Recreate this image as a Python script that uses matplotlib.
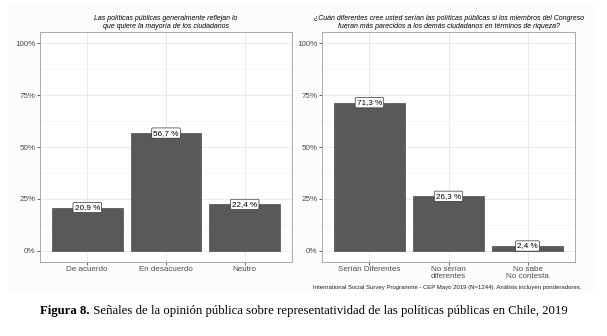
import matplotlib.pyplot as plt
from matplotlib.patches import Rectangle

# datos
titulo_izq = "Las políticas públicas generalmente reflejan lo\nque quiere la mayoría de los ciudadanos"
cats_izq = ["De acuerdo", "En desacuerdo", "Neutro"]
vals_izq = [20.9, 56.7, 22.4]

titulo_der = ("¿Cuán diferentes cree usted serían las políticas públicas si los miembros del Congreso\n"
              "fueran más parecidos a los demás ciudadanos en términos de riqueza?")
cats_der = ["Serían Diferentes", "No serían\ndiferentes", "No sabe\nNo contesta"]
vals_der = [71.3, 26.3, 2.4]

yticks = [0, 25, 50, 75, 100]
ytick_labels = ["0%", "25%", "50%", "75%", "100%"]

fuente = "International Social Survey Programme - CEP Mayo 2019 (N=1244). Análisis incluyen ponderadores."
fig_bold = "Figura 8."
fig_texto = " Señales de la opinión pública sobre representatividad de las políticas públicas en Chile, 2019"

plt.rcParams['font.family'] = ['Liberation Sans', 'DejaVu Sans']

fig = plt.figure(figsize=(6.07, 3.36), dpi=100)
fig.patch.set_facecolor('white')
fig.patches.append(Rectangle((8/607, 1 - 292/336), 587/607, 288/336, transform=fig.transFigure,
                             facecolor='#fcfcfc', edgecolor='none', zorder=-10))

def panel(rect, cats, vals, titulo):
    ax = fig.add_axes(rect)
    x = range(len(cats))
    ax.bar(x, vals, width=0.9, color='#595959', edgecolor='#4a4a4a', linewidth=0.5, zorder=2)
    for xi, v in zip(x, vals):
        ax.text(xi, v, f"{v:.1f} %".replace('.', ','), ha='center', va='center', fontsize=5.9,
                color='black', zorder=4,
                bbox=dict(boxstyle='round,pad=0.2,rounding_size=0.15', fc='white', ec='#333333', lw=0.5))
    ax.set_xlim(-0.6, len(cats) - 0.4)
    ax.set_ylim(-5.3, 105.3)
    ax.set_yticks(yticks)
    ax.set_yticklabels(ytick_labels)
    ax.set_yticks([12.5, 37.5, 62.5, 87.5], minor=True)
    ax.set_xticks(list(x))
    ax.set_xticklabels(cats, linespacing=0.95)
    ax.tick_params(axis='both', which='major', labelsize=5.8, colors='#4d4d4d', length=2,
                   width=0.6, pad=1.2, labelcolor='#4d4d4d')
    ax.tick_params(axis='y', which='minor', length=0)
    ax.grid(True, which='major', color='#ebebeb', lw=0.7, zorder=0)
    ax.grid(True, which='minor', axis='y', color='#f3f3f3', lw=0.5, zorder=0)
    ax.set_axisbelow(True)
    ax.set_facecolor('white')
    for s in ax.spines.values():
        s.set_color('#aaaaaa')
        s.set_linewidth(0.7)
    ax.set_title(titulo, fontsize=5.0, style='italic', pad=3, linespacing=1.1)
    return ax

ax1 = panel([40/607, 1 - 262/336, 252/607, 230/336], cats_izq, vals_izq, titulo_izq)
ax2 = panel([322/607, 1 - 262/336, 253/607, 230/336], cats_der, vals_der, titulo_der)

fig.text(447/607, 1 - 288/336, fuente, ha='center', va='center', fontsize=4.3, color='#222222')

t1 = fig.text(40/607, 1 - 311/336, fig_bold, ha='left', va='center', fontsize=9.2,
              family='Liberation Serif', weight='bold')
fig.canvas.draw()
bb = t1.get_window_extent()
fig.text(bb.x1 / fig.bbox.width, 1 - 311/336, fig_texto, ha='left', va='center', fontsize=9.2,
         family='Liberation Serif')

fig.savefig('out.png', dpi=100)
